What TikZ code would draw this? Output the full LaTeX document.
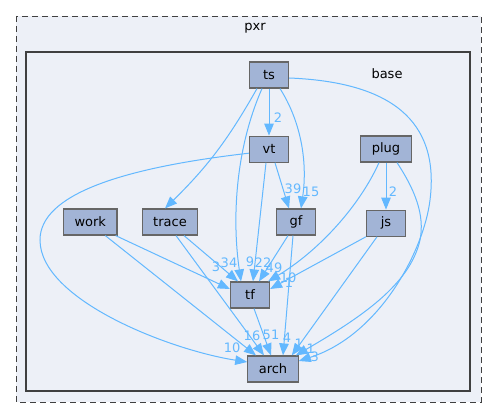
\documentclass[tikz,border=0pt]{standalone}
\usepackage{fontspec}
\setmainfont{DejaVu Sans}
\usepackage{xcolor}
\usepackage{tikz}
\usetikzlibrary{arrows.meta,positioning}
\definecolor{dirfill}{HTML}{A2B4D6}
\definecolor{dirline}{HTML}{666666}
\definecolor{deplink}{HTML}{63B8FF}
\definecolor{clusterbg}{HTML}{EDF0F7}
\definecolor{clusterline}{HTML}{404040}
\tikzset{
  dirbox/.style  ={draw=dirline,line width=1.2pt,fill=dirfill,minimum width=39pt,
                   minimum height=26pt,inner xsep=11pt,inner ysep=0pt},
  outerbox/.style={draw=clusterline,dash pattern=on 6pt off 4pt,line width=0.9pt,
                   fill=clusterbg},
  innerbox/.style={draw=clusterline,line width=2pt,fill=clusterbg},
  dep/.style     ={-{Triangle[length=12pt,width=9.5pt]},line width=1pt,draw=deplink},
  deplbl/.style  ={text=deplink,inner sep=0pt}
}

\begin{document}
\begin{tikzpicture}[x=1pt,y=-1pt,every node/.style={font=\fontsize{13}{15}\selectfont}]
  \useasboundingbox (0,0) rectangle (497,419);
  % clusters
  \draw[outerbox] (16,16) rectangle (481,402);
  \node (pxrlbl) at (255,28) {pxr};
  \draw[innerbox] (26,52) rectangle (470,391);
  \node (baselbl) at (387,74) {base};
  % directories
  \node[dirbox] (ts) at (269,75) {ts};
  \node[dirbox,below=47pt of ts] (vt) {vt};
  \node[dirbox] (plug) at (386,149) {plug};
  \node[dirbox,below=47pt of plug] (js) {js};
  \node[dirbox] (gf) at (296,222) {gf};
  \node[dirbox] (trace) at (170,222) {trace};
  \node[dirbox,left=24pt of trace] (work) {work};
  \node[dirbox] (tf) at (250,295) {tf};
  \node[dirbox] (arch) at (273,369) {arch};
  % dependencies
  \draw[dep] (ts.south) -- (vt.north)
    node[deplbl,at end,xshift=9pt,yshift=18pt] {2};
  \draw[dep] ([xshift=-12pt]ts.south) to[bend left=8] ([xshift=-5pt]trace.north)
    node[deplbl,at end,xshift=26pt,yshift=13pt] {1};
  \draw[dep] ([xshift=-7pt]ts.south) .. controls (235,150) and (232,220) .. ([xshift=-9pt]tf.north)
    node[deplbl,at end,xshift=9pt,yshift=20pt] {9};
  \draw[dep] ([xshift=11pt]ts.south) .. controls (300,120) and (308,160) .. ([xshift=5pt]gf.north)
    node[deplbl,at end,xshift=10pt,yshift=17pt] {15};
  \draw[dep] ([yshift=-3pt]ts.east) .. controls (390,82) and (440,120) .. (430,200)
    .. controls (424,250) and (380,335) .. ([yshift=8pt]arch.east)
    node[deplbl,at end,xshift=16pt,yshift=4pt] {3};
  \draw[dep] ([xshift=6pt]vt.south) -- ([xshift=-7pt]gf.north)
    node[deplbl,at end,xshift=4pt,yshift=20pt] {39};
  \draw[dep] ([xshift=-3pt]vt.south) -- ([xshift=3pt]tf.north)
    node[deplbl,at end,xshift=10pt,yshift=19pt] {22};
  \draw[dep] ([yshift=-4pt]vt.west) .. controls (120,168) and (40,195) .. (40,240)
    .. controls (40,300) and (170,350) .. ([yshift=7pt]arch.west)
    node[deplbl,at end,xshift=-15pt,yshift=14pt] {10};
  \draw[dep] (plug.south) -- (js.north)
    node[deplbl,at end,xshift=7pt,yshift=18pt] {2};
  \draw[dep] ([xshift=-7pt]plug.south) .. controls (360,205) and (320,250) .. ([xshift=-2pt]tf.north east)
    node[deplbl,at end,xshift=20pt,yshift=4pt] {10};
  \draw[dep] (js.south west) -- ([yshift=6pt]tf.east)
    node[deplbl,at end,xshift=19pt,yshift=6pt] {1};
  \draw[dep] ([xshift=11pt]plug.south) .. controls (415,190) and (425,215) .. (420,240)
    .. controls (410,285) and (360,318) .. ([xshift=-3pt]arch.north east)
    node[deplbl,at end,xshift=15pt,yshift=7pt] {1};
  \draw[dep] ([xshift=-9pt]js.south) -- ([xshift=-7pt]arch.north east)
    node[deplbl,at end,xshift=7pt,yshift=12pt] {1};
  \draw[dep] ([xshift=-3pt]gf.south) -- ([xshift=10pt]arch.north)
    node[deplbl,at end,xshift=4pt,yshift=18pt] {4};
  \draw[dep] ([xshift=-8pt]gf.south) -- ([xshift=9pt]tf.north)
    node[deplbl,at end,xshift=15pt,yshift=14pt] {49};
  \draw[dep] ([xshift=-2pt]work.south east) -- ([yshift=6pt]tf.west)
    node[deplbl,at end,xshift=-14pt,yshift=22pt] {3};
  \draw[dep] ([xshift=15pt]work.south) -- ([xshift=-17pt]arch.north);
  \draw[dep] ([xshift=14pt]trace.south) -- ([xshift=-12pt]tf.north)
    node[deplbl,at end,xshift=-9pt,yshift=19pt] {34};
  \draw[dep] ([xshift=6pt]trace.south) -- ([xshift=-9pt]arch.north)
    node[deplbl,at end,xshift=-12pt,yshift=20pt] {16};
  \draw[dep] ([xshift=4pt]tf.south) -- ([xshift=-2pt]arch.north)
    node[deplbl,at end,xshift=0pt,yshift=21pt] {51};
\end{tikzpicture}
\end{document}
